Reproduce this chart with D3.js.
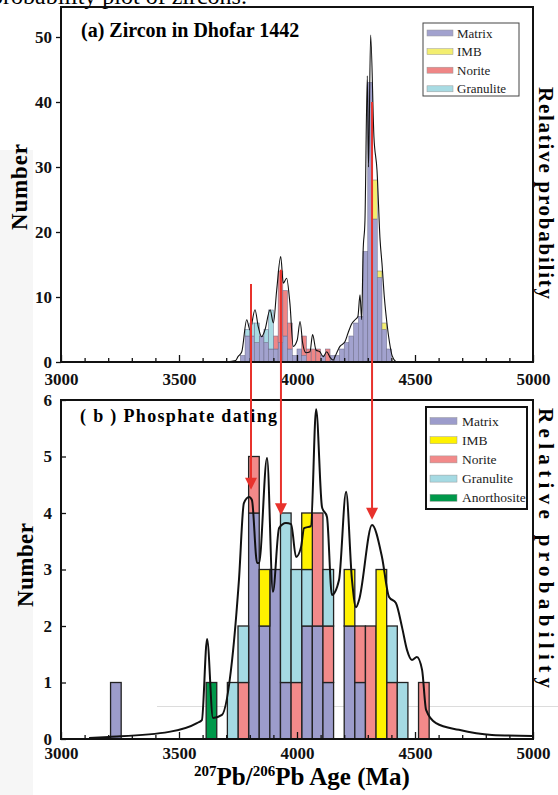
<!DOCTYPE html>
<html>
<head>
<meta charset="utf-8">
<script src="https://cdn.jsdelivr.net/npm/d3@7"></script>
<style>
  body { margin: 0; background: #fff; }
  svg { display: block; }
  text { font-family: "Liberation Serif", "Times New Roman", serif; }
</style>
</head>
<body>
<svg id="chart" width="558" height="795"></svg>
<script>
// ---- data ----
const ageTicks = [3000, 3500, 4000, 4500, 5000];
const zirconTicks = [0, 10, 20, 30, 40, 50];
const phosTicks = [0, 1, 2, 3, 4, 5, 6];

// (a) zircon, 20 Ma bins
const zirconBinWidth = 20;
const zirconBins = [3760,3780,3800,3820,3840,3860,3880,3900,3920,3940,3960,3980,4000,4020,4040,4060,
                    4080,4100,4120,4140,4160,4180,4200,4220,4240,4260,4280,4300,4320,4340,4360,4380];
const zirconMatrix    = [1,4,4,3,4,3,2,2,3,4,2,1,2,1,0,0,0,1,0,1,1,2,3,4,6,7,17,43,22,13,5,2];
const zirconNorite    = [0,0,0,0,0,0,0,2,11,7,4,0,0,3,2,2,2,0,2,0,0,0,0,0,0,0,0,0,0,0,0,0];
const zirconGranulite = [0,1,2,3,0,2,6,0,0,0,0,0,0,0,0,0,0,0,0,0,0,0,0,0,0,0,0,0,0,0,0,0];
const zirconIMB       = [0,0,0,0,0,0,0,0,0,0,0,0,0,0,0,0,0,0,0,0,0,0,0,0,0,0,0,0,6,1,1,0];

const zirconCurveAge  = [3700,3740,3750,3766,3787,3801,3822,3836,3850,3864,3886,3900,3914,3931,3942,3956,3970,3984,
                         4001,4013,4024,4038,4055,4066,4081,4097,4111,4126,4140,4154,4161,4182,4203,4216,4232,4246,
                         4258,4267,4274,4280,4288,4298,4303,4312,4326,4339,4352,4360,4370,4381,4392,4403,4420];
const zirconCurveProb = [0,0.004,0.015,0.029,0.119,0.090,0.147,0.099,0.071,0.090,0.147,0.110,0.203,0.297,0.222,0.236,0.165,0.044,
                         0.062,0.114,0.053,0.026,0.029,0.077,0.033,0.029,0.015,0.029,0.013,0.005,0.015,0.044,0.057,0.081,0.108,0.119,
                         0.128,0.189,0.119,0.308,0.399,0.806,0.549,0.921,0.634,0.540,0.344,0.278,0.183,0.110,0.055,0.018,0];

// (b) phosphate, 45 Ma bins
const phosBinWidth = 45;
const phosBins        = [3210,3615,3705,3750,3795,3840,3885,3930,3975,4020,4065,4110,4200,4245,4290,4335,4380,4425,4515];
const phosMatrix      = [1,0,0,0,4,2,3,1,0,2,2,1,2,1,0,0,0,0,0];
const phosNorite      = [0,0,0,1,1,0,0,0,1,0,2,1,0,1,2,0,1,0,1];
const phosGranulite   = [0,0,1,1,0,0,0,3,2,1,0,1,0,0,0,0,1,1,0];
const phosIMB         = [0,0,0,0,0,1,0,0,0,1,0,0,1,0,0,3,0,0,0];
const phosAnorthosite = [0,1,0,0,0,0,0,0,0,0,0,0,0,0,0,0,0,0,0];

const phosCurveAge  = [3119,3203,3458,3576,3597,3619,3644,3682,3725,3754,3775,3797,3809,3831,3839,3873,3898,3924,3953,3975,
                       3996,4017,4030,4059,4081,4106,4127,4148,4178,4208,4233,4250,4263,4318,4360,4390,4419,4445,4466,4487,
                       4508,4530,4547,4589,4686,4826,4996];
const phosCurveProb = [0.003,0.006,0.021,0.047,0.056,0.295,0.062,0.071,0.233,0.469,0.696,0.714,0.705,0.519,0.519,0.829,0.434,0.622,0.637,0.634,
                       0.537,0.566,0.622,0.628,0.973,0.684,0.655,0.425,0.469,0.729,0.469,0.389,0.410,0.631,0.537,0.419,0.401,0.330,0.263,0.233,
                       0.242,0.204,0.086,0.047,0.027,0.012,0.009];

// arrows: age, start (zircon count), tip (phosphate count)
const arrowAge  = [3805, 3932, 4318];
const arrowFrom = [12, 14.2, 40];
const arrowTo   = [4.41, 3.96, 3.88];

const legendA = ["Matrix", "IMB", "Norite", "Granulite"];
const legendB = ["Matrix", "IMB", "Norite", "Granulite", "Anorthosite"];
const stackKeys = ["Matrix", "Norite", "Granulite", "IMB", "Anorthosite"];

const colorA = {Matrix: "#a2a2ce", IMB: "#f3ee70", Norite: "#ef8686", Granulite: "#a8dbe3"};
const colorB = {Matrix: "#9c9ccb", IMB: "#fff200", Norite: "#f28a8a", Granulite: "#a5dae3", Anorthosite: "#00984a"};

// ---- drawing ----
const svg = d3.select("#chart");

// scan artefacts of the source page
svg.append("rect").attr("x", 0).attr("y", 150).attr("width", 33).attr("height", 645).attr("fill", "#f6f6f6");
svg.append("line").attr("x1", 157).attr("x2", 558).attr("y1", 706.5).attr("y2", 706.5)
    .attr("stroke", "#dcdcdc").attr("stroke-width", 1);

svg.append("text").attr("x", -9).attr("y", 4).attr("font-size", 24).text("probability plot of zircons.");

const x = d3.scaleLinear().domain([3000, 5000]).range([61, 533]);
const ya = d3.scaleLinear().domain([0, 50]).range([362, 37]);
const yaProb = d3.scaleLinear().domain([0, 1]).range([362, 7]);
const yb = d3.scaleLinear().domain([0, 6]).range([739, 400]);
const ybProb = d3.scaleLinear().domain([0, 1]).range([739, 400]);

function rows(bins, cols) {
    return bins.map((b, i) => {
        let r = {bin: b};
        for (let k in cols) r[k] = cols[k][i];
        return r;
    });
}

function drawBars(g, data, keys, width, y, colors, stroke, sw) {
    let layers = d3.stack().keys(keys)(data);
    layers.forEach(layer => {
        g.selectAll(null)
            .data(layer.filter(d => d[1] > d[0]))
            .enter().append("rect")
            .attr("x", d => x(d.data.bin))
            .attr("width", d => x(d.data.bin + width) - x(d.data.bin))
            .attr("y", d => y(d[1]))
            .attr("height", d => y(d[0]) - y(d[1]))
            .attr("fill", colors[layer.key])
            .attr("stroke", stroke)
            .attr("stroke-width", sw);
    });
}

function drawXAxis(g, yPos, pad) {
    let major = d3.axisBottom(x).tickValues(ageTicks).tickSize(-7).tickPadding(pad).tickFormat(d3.format("d"));
    let minor = d3.axisBottom(x).tickValues(d3.range(3100, 5000, 100).filter(v => v % 500)).tickSize(-4).tickFormat("");
    let ga = g.append("g").attr("transform", `translate(0,${yPos})`).call(major);
    g.append("g").attr("transform", `translate(0,${yPos})`).call(minor);
    g.selectAll(".domain").remove();
    ga.selectAll("text").attr("font-size", 17).attr("font-weight", "bold").attr("fill", "#111");
    g.selectAll(".tick line").attr("stroke", "#111").attr("stroke-width", 1.3);
}

// ---------- panel (a) ----------
const ga = svg.append("g");
drawBars(ga, rows(zirconBins, {Matrix: zirconMatrix, Norite: zirconNorite, Granulite: zirconGranulite, IMB: zirconIMB}),
    ["Matrix", "Norite", "Granulite", "IMB"], zirconBinWidth, ya, colorA, "#6a6a88", 0.5);

ga.append("path")
    .datum(zirconCurveAge.map((a, i) => [a, zirconCurveProb[i]]))
    .attr("fill", "none").attr("stroke", "#111").attr("stroke-width", 1.1)
    .attr("d", d3.line().x(d => x(d[0])).y(d => yaProb(d[1])).curve(d3.curveMonotoneX));

drawXAxis(ga, 362, 11);
let yAxisA = ga.append("g").attr("transform", "translate(61,0)")
    .call(d3.axisLeft(ya).tickValues(zirconTicks).tickSize(5).tickPadding(4).tickFormat(d3.format("d")));
yAxisA.select(".domain").remove();
yAxisA.selectAll("text").attr("font-size", 17).attr("font-weight", "bold").attr("fill", "#111");
yAxisA.selectAll("line").attr("stroke", "#111").attr("stroke-width", 1.3);

ga.append("rect").attr("x", 61).attr("y", 7).attr("width", 472).attr("height", 355)
    .attr("fill", "none").attr("stroke", "#111").attr("stroke-width", 2);

ga.append("text").attr("x", 81).attr("y", 37).attr("font-size", 20).attr("font-weight", "bold")
    .text("(a) Zircon in Dhofar 1442");

// legend a
const lgA = ga.append("g");
lgA.append("rect").attr("x", 423).attr("y", 23).attr("width", 96).attr("height", 73)
    .attr("fill", "#fff").attr("stroke", "#444").attr("stroke-width", 1);
legendA.forEach((k, i) => {
    let cy = 33 + i * 18.6;
    lgA.append("rect").attr("x", 427).attr("y", cy - 3).attr("width", 26).attr("height", 6)
        .attr("fill", colorA[k]).attr("stroke", "#999").attr("stroke-width", 0.5);
    lgA.append("text").attr("x", 457).attr("y", cy + 4.5).attr("font-size", 13).attr("fill", "#222").text(k);
});

// ---------- panel (b) ----------
const gb = svg.append("g");
drawBars(gb, rows(phosBins, {Matrix: phosMatrix, Norite: phosNorite, Granulite: phosGranulite, IMB: phosIMB, Anorthosite: phosAnorthosite}),
    stackKeys, phosBinWidth, yb, colorB, "#222", 1.3);

gb.append("path")
    .datum(phosCurveAge.map((a, i) => [a, phosCurveProb[i]]))
    .attr("fill", "none").attr("stroke", "#111").attr("stroke-width", 2)
    .attr("d", d3.line().x(d => x(d[0])).y(d => ybProb(d[1])).curve(d3.curveMonotoneX));

drawXAxis(gb, 739, 8);
let yAxisB = gb.append("g").attr("transform", "translate(61,0)")
    .call(d3.axisLeft(yb).tickValues(phosTicks).tickSize(-5).tickPadding(9).tickFormat(d3.format("d")));
yAxisB.select(".domain").remove();
yAxisB.selectAll("text").attr("font-size", 17).attr("font-weight", "bold").attr("fill", "#111");
yAxisB.selectAll("line").attr("stroke", "#111").attr("stroke-width", 1.3);

gb.append("rect").attr("x", 61).attr("y", 400).attr("width", 472).attr("height", 339)
    .attr("fill", "none").attr("stroke", "#111").attr("stroke-width", 2);

gb.append("text").attr("x", 80).attr("y", 422).attr("font-size", 18).attr("font-weight", "bold")
    .attr("textLength", 197).attr("lengthAdjust", "spacing")
    .text("( b ) Phosphate dating");

// legend b
const lgB = gb.append("g");
lgB.append("rect").attr("x", 426).attr("y", 407).attr("width", 101).attr("height", 102)
    .attr("fill", "#fff").attr("stroke", "#111").attr("stroke-width", 2);
legendB.forEach((k, i) => {
    let cy = 421 + i * 19.2;
    lgB.append("rect").attr("x", 430).attr("y", cy - 3.5).attr("width", 27).attr("height", 7)
        .attr("fill", colorB[k]).attr("stroke", "#999").attr("stroke-width", 0.5);
    lgB.append("text").attr("x", 462).attr("y", cy + 4.5).attr("font-size", 13.5).attr("fill", "#222").text(k);
});

// ---------- red arrows ----------
const red = "#e8322c";
arrowAge.forEach((a, i) => {
    let ax = x(a), tip = yb(arrowTo[i]);
    svg.append("line").attr("x1", ax).attr("x2", ax)
        .attr("y1", ya(arrowFrom[i])).attr("y2", tip - 10)
        .attr("stroke", red).attr("stroke-width", 2);
    svg.append("path")
        .attr("d", `M${ax - 6},${tip - 12}L${ax + 6},${tip - 12}L${ax},${tip}Z`)
        .attr("fill", red);
});

// ---------- axis titles ----------
function yTitle(cx, cy, txt, len) {
    svg.append("text").attr("transform", `translate(${cx},${cy}) rotate(-90)`)
        .attr("text-anchor", "middle").attr("font-size", 23).attr("font-weight", "bold")
        .attr("textLength", len).attr("lengthAdjust", "spacing").text(txt);
}
yTitle(27, 187, "Number", 86);
yTitle(33, 565, "Number", 84);

function rTitle(cx, cy, len) {
    svg.append("text").attr("transform", `translate(${cx},${cy}) rotate(90)`)
        .attr("text-anchor", "middle").attr("font-size", 21).attr("font-weight", "bold")
        .attr("textLength", len).attr("lengthAdjust", "spacing").text("Relative probability");
}
rTitle(539, 193, 212);
rTitle(539, 548, 280);

const xt = svg.append("text").attr("x", 302).attr("y", 785).attr("text-anchor", "middle")
    .attr("font-size", 25).attr("font-weight", "bold");
xt.append("tspan").attr("font-size", 15).attr("dy", -9).text("207");
xt.append("tspan").attr("dy", 9).text("Pb/");
xt.append("tspan").attr("font-size", 15).attr("dy", -9).text("206");
xt.append("tspan").attr("dy", 9).text("Pb Age (Ma)");
</script>
</body>
</html>
